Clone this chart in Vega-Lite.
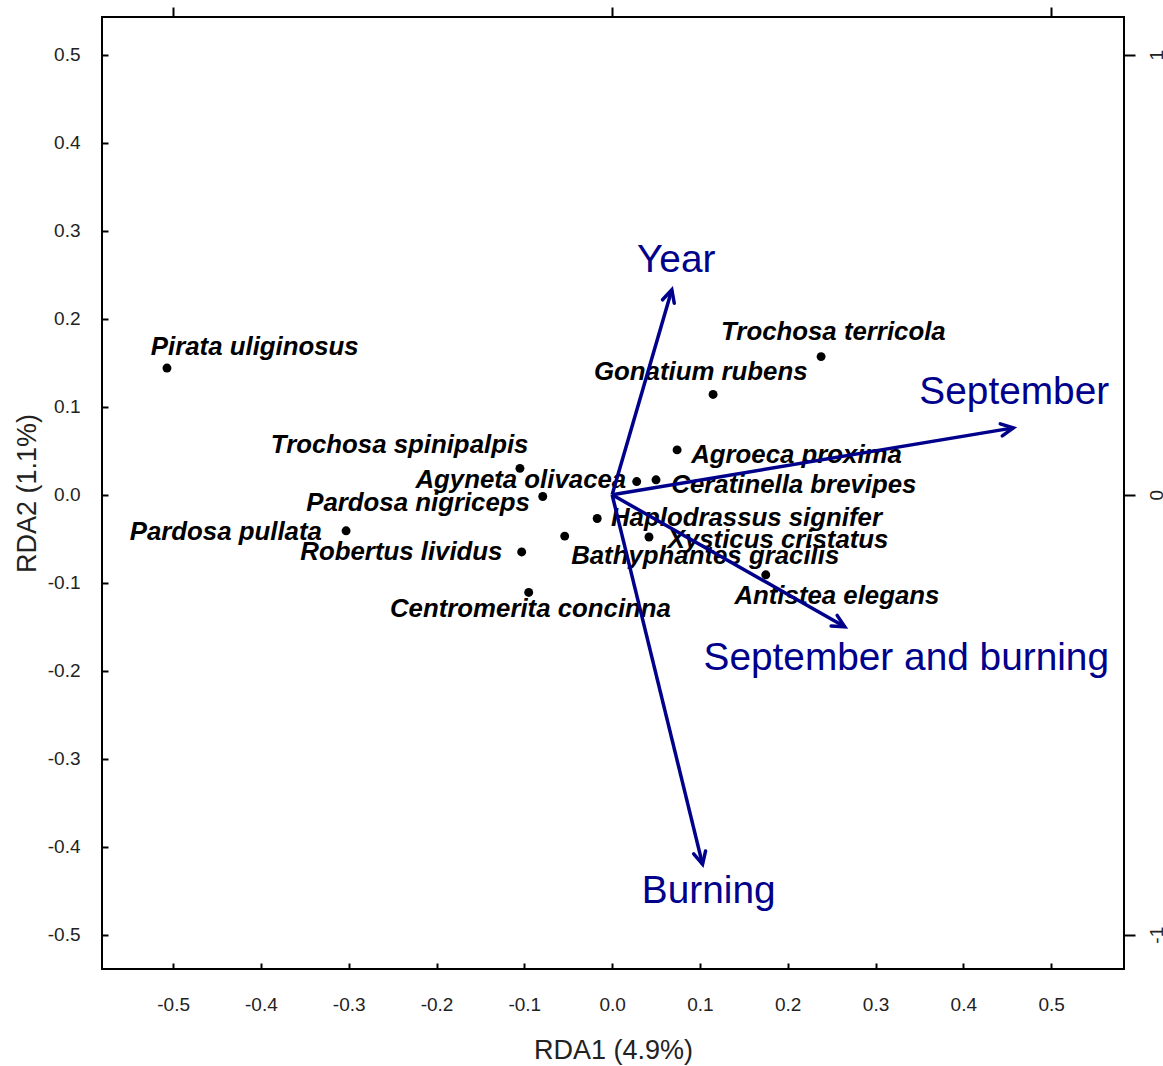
{
  "$schema": "https://vega.github.io/schema/vega-lite/v6.json",
  "width": 1022,
  "height": 952,
  "autosize": "none",
  "padding": {"left": 102, "top": 17, "right": 39, "bottom": 97},
  "background": "white",
  "config": {
    "view": {"stroke": "black", "strokeWidth": 2},
    "font": "Liberation Sans",
    "axis": {
      "domain": false, "grid": false,
      "labelFont": "Liberation Sans", "labelFontSize": 19, "labelColor": "#222",
      "tickColor": "black", "tickWidth": 2,
      "titleFont": "Liberation Sans", "titleFontSize": 27, "titleFontWeight": "normal", "titleColor": "#222"
    }
  },
  "datasets": {
    "species": [
      {"species": "Pirata uliginosus", "x": -0.507, "y": 0.144, "lx": -0.407, "ly": 0.168},
      {"species": "Trochosa terricola", "x": 0.238, "y": 0.157, "lx": 0.252, "ly": 0.185},
      {"species": "Gonatium rubens", "x": 0.115, "y": 0.114, "lx": 0.101, "ly": 0.140},
      {"species": "Agroeca proxima", "x": 0.074, "y": 0.051, "lx": 0.210, "ly": 0.045},
      {"species": "Trochosa spinipalpis", "x": -0.105, "y": 0.030, "lx": -0.242, "ly": 0.056},
      {"species": "Agyneta olivacea", "x": 0.028, "y": 0.015, "lx": -0.104, "ly": 0.017},
      {"species": "Ceratinella brevipes", "x": 0.050, "y": 0.017, "lx": 0.207, "ly": 0.011},
      {"species": "Pardosa nigriceps", "x": -0.079, "y": -0.002, "lx": -0.221, "ly": -0.009},
      {"species": "Haplodrassus signifer", "x": -0.017, "y": -0.027, "lx": 0.153, "ly": -0.026},
      {"species": "Pardosa pullata", "x": -0.303, "y": -0.041, "lx": -0.440, "ly": -0.042},
      {"species": "Xysticus cristatus", "x": 0.042, "y": -0.048, "lx": 0.189, "ly": -0.051},
      {"species": "Robertus lividus", "x": -0.103, "y": -0.065, "lx": -0.240, "ly": -0.065},
      {"species": "Bathyphantes gracilis", "x": -0.054, "y": -0.047, "lx": 0.106, "ly": -0.070},
      {"species": "Antistea elegans", "x": 0.175, "y": -0.091, "lx": 0.256, "ly": -0.115},
      {"species": "Centromerita concinna", "x": -0.095, "y": -0.111, "lx": -0.093, "ly": -0.130}
    ],
    "env": [
      {"variable": "Year", "x": 0.068, "y": 0.233, "tx": 0.073, "ty": 0.267},
      {"variable": "September", "x": 0.457, "y": 0.076, "tx": 0.458, "ty": 0.117},
      {"variable": "September and burning", "x": 0.265, "y": -0.150, "tx": 0.335, "ty": -0.185},
      {"variable": "Burning", "x": 0.103, "y": -0.420, "tx": 0.110, "ty": -0.450}
    ]
  },
  "layer": [
    {
      "mark": {"type": "rule", "color": "black", "strokeWidth": 1.5, "strokeDash": [1.5, 6]},
      "encoding": {
        "y": {"datum": 0, "type": "quantitative", "scale": {"domain": [-0.539, 0.543], "nice": false, "zero": false}, "axis": null}
      }
    },
    {
      "mark": {"type": "rule", "color": "black", "strokeWidth": 1.5, "strokeDash": [1.5, 6]},
      "encoding": {
        "x": {"datum": 0, "type": "quantitative", "scale": {"domain": [-0.581, 0.583], "nice": false, "zero": false}, "axis": null}
      }
    },
    {
      "data": {"name": "species"},
      "mark": {"type": "point", "shape": "circle", "filled": true, "color": "black", "size": 80, "opacity": 1},
      "encoding": {
        "x": {"field": "x", "type": "quantitative",
          "scale": {"domain": [-0.581, 0.583], "nice": false, "zero": false},
          "axis": {"orient": "bottom", "values": [-0.5, -0.4, -0.3, -0.2, -0.1, 0, 0.1, 0.2, 0.3, 0.4, 0.5],
            "tickSize": -6, "labelPadding": 32,
            "labelExpr": "replace(format(datum.value, '.1f'), '\u2212', '-')",
            "title": "RDA1 (4.9%)", "titleBaseline": "middle", "titleX": 511, "titleY": 81}},
        "y": {"field": "y", "type": "quantitative",
          "scale": {"domain": [-0.539, 0.543], "nice": false, "zero": false},
          "axis": {"orient": "left", "values": [-0.5, -0.4, -0.3, -0.2, -0.1, 0, 0.1, 0.2, 0.3, 0.4, 0.5],
            "tickSize": -6, "labelPadding": 28,
            "labelExpr": "replace(format(datum.value, '.1f'), '\u2212', '-')",
            "title": "RDA2 (1.1%)", "titleAngle": 270, "titleBaseline": "middle", "titleX": -75, "titleY": 476}}
      }
    },
    {
      "data": {"name": "species"},
      "mark": {"type": "text", "font": "Liberation Sans", "fontSize": 25.8, "fontWeight": "bold", "fontStyle": "italic", "color": "black", "align": "center", "baseline": "middle"},
      "encoding": {
        "x": {"field": "lx", "type": "quantitative", "axis": null},
        "y": {"field": "ly", "type": "quantitative", "axis": null},
        "text": {"field": "species"}
      }
    },
    {
      "data": {"name": "env"},
      "mark": {"type": "rule", "color": "#00008B", "strokeWidth": 3.5},
      "encoding": {
        "x": {"field": "x", "type": "quantitative",
          "axis": {"orient": "top", "values": [-0.5, 0, 0.5], "tickSize": 10, "labels": false, "title": null}},
        "x2": {"datum": 0},
        "y": {"field": "y", "type": "quantitative",
          "axis": {"orient": "right", "values": [-0.5, 0, 0.5], "tickSize": 11, "labelPadding": 12,
            "labelAngle": 270, "labelAlign": "center", "labelBaseline": "top",
            "labelExpr": "datum.value > 0.1 ? '1' : (datum.value < -0.1 ? '-1' : '0')", "title": null}},
        "y2": {"datum": 0}
      }
    },
    {
      "data": {"name": "env"},
      "transform": [{"calculate": "atan2(datum.x, datum.y) * 180 / PI", "as": "ang"}],
      "mark": {"type": "point", "shape": "M -0.5 1 L 0 0 L 0.5 1", "filled": false, "color": "#00008B", "strokeWidth": 3.5, "size": 600, "opacity": 1, "strokeCap": "round", "strokeJoin": "miter"},
      "encoding": {
        "x": {"field": "x", "type": "quantitative", "axis": null},
        "y": {"field": "y", "type": "quantitative", "axis": null},
        "angle": {"field": "ang", "type": "quantitative", "scale": null}
      }
    },
    {
      "data": {"name": "env"},
      "mark": {"type": "text", "font": "Liberation Sans", "fontSize": 38.8, "color": "#00008B", "align": "center", "baseline": "middle"},
      "encoding": {
        "x": {"field": "tx", "type": "quantitative", "axis": null},
        "y": {"field": "ty", "type": "quantitative", "axis": null},
        "text": {"field": "variable"}
      }
    }
  ],
  "resolve": {"axis": {"x": "independent", "y": "independent"}}
}
